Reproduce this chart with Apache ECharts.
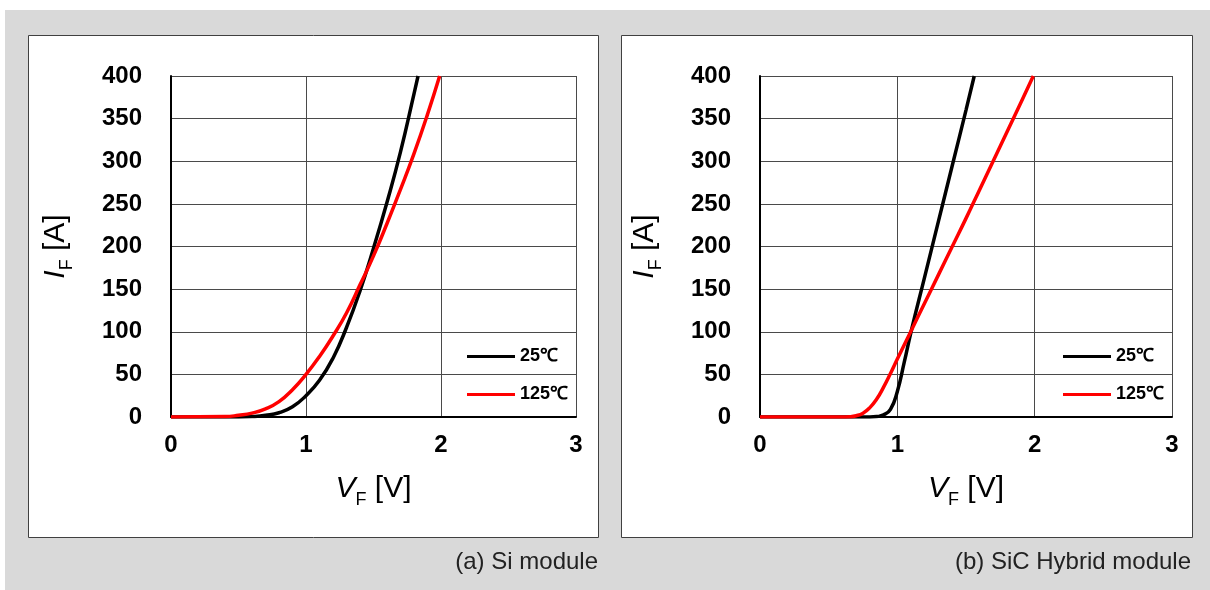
<!DOCTYPE html>
<html>
<head>
<meta charset="utf-8">
<script src="https://cdn.jsdelivr.net/npm/echarts@6/dist/echarts.min.js"></script>
<style>
html, body { margin: 0; padding: 0; background: #fff; }
#chart { width: 1210px; height: 590px; }
</style>
</head>
<body>
<div id="chart"></div>
<script>
// (a) Si module
const siV25 = [0, 0.5, 0.6, 0.7, 0.8, 0.9, 1.0, 1.1, 1.2, 1.3, 1.4, 1.5, 1.6, 1.7, 1.8, 1.83];
const siI25 = [0, 0, 0.5, 2, 5, 12, 25, 43, 69, 105, 148, 198, 252, 311, 379, 400];
const siV125 = [0, 0.4, 0.5, 0.6, 0.7, 0.8, 0.9, 1.0, 1.1, 1.2, 1.3, 1.4, 1.5, 1.6, 1.7, 1.8, 1.9, 1.99];
const siI125 = [0, 0.5, 2, 4.5, 9.5, 18, 32, 50, 71, 95, 122, 155, 189, 227, 267, 309, 355, 400];
// (b) SiC Hybrid module
const sicV25 = [0, 0.8, 0.85, 0.9, 0.95, 1.0, 1.05, 1.1, 1.2, 1.3, 1.4, 1.5, 1.56];
const sicI25 = [0, 0, 0.5, 2.5, 9, 30, 64, 100, 165, 230, 295, 360, 400];
const sicV125 = [0, 0.6, 0.65, 0.7, 0.75, 0.8, 0.85, 0.9, 0.95, 1.0, 1.1, 1.2, 1.3, 1.4, 1.5, 1.6, 1.7, 1.8, 1.9, 1.99];
const sicI125 = [0, 0, 0.3, 1.5, 4.5, 11, 21, 35, 51, 68, 101, 134, 167, 200, 233, 267, 301, 335, 369, 400];

const seriesNames = ['25℃', '125℃'];
const seriesColors = ['#000000', '#ff0000'];
const captions = ['(a) Si module', '(b) SiC Hybrid module'];

const font = '"Liberation Sans", Arial, sans-serif';

function pairs(v, i) {
  return v.map((x, k) => [x, i[k]]);
}

function nameRich() {
  return {
    i: { fontStyle: 'italic', fontSize: 30, lineHeight: 36, fontFamily: font, color: '#000' },
    s: { fontSize: 18, lineHeight: 18, padding: [22, 0, 0, 0], fontFamily: font, color: '#000' }
  };
}

function xAxis(idx) {
  return {
    type: 'value', gridIndex: idx, min: 0, max: 3, interval: 1,
    name: '{i|V}{s|F} [V]', nameLocation: 'middle', nameGap: 54,
    nameTextStyle: { fontFamily: font, fontSize: 30, lineHeight: 36, color: '#000', rich: nameRich() },
    axisLine: { show: true, onZero: false, lineStyle: { color: '#000', width: 2 } },
    axisTick: { show: false },
    axisLabel: { color: '#000', fontWeight: 'bold', fontSize: 24, margin: 16, fontFamily: font },
    splitLine: { show: true, lineStyle: { color: '#4a4a4a', width: 1 } }
  };
}

function yAxis(idx) {
  return {
    type: 'value', gridIndex: idx, min: 0, max: 400, interval: 50,
    name: '{i|I}{s|F} [A]', nameLocation: 'middle', nameGap: 97, nameRotate: 90,
    nameTextStyle: { fontFamily: font, fontSize: 30, lineHeight: 36, color: '#000', rich: nameRich() },
    axisLine: { show: true, onZero: false, lineStyle: { color: '#000', width: 2 } },
    axisTick: { show: false },
    axisLabel: { color: '#000', fontWeight: 'bold', fontSize: 24, margin: 29, fontFamily: font },
    splitLine: { show: true, lineStyle: { color: '#4a4a4a', width: 1 } }
  };
}

function line(name, color, idx, data) {
  return {
    name: name, type: 'line', xAxisIndex: idx, yAxisIndex: idx,
    data: data, smooth: 0.5, smoothConstraint: false, showSymbol: false, symbol: 'none',
    lineStyle: { color: color, width: 3.5 },
    itemStyle: { color: color },
    z: 3
  };
}

function legend(left) {
  return {
    data: seriesNames, orient: 'vertical', left: left, top: 341,
    itemWidth: 48, itemHeight: 3, itemGap: 17, icon: 'rect', selectedMode: false,
    textStyle: { fontSize: 18, fontWeight: 'bold', color: '#000', fontFamily: font, lineHeight: 21 }
  };
}

const chart = echarts.init(document.getElementById('chart'));

const option = {
  animation: false,
  backgroundColor: '#fff',
  graphic: [
    { type: 'rect', z: -20, shape: { x: 5, y: 10, width: 1205, height: 580 }, style: { fill: '#d9d9d9' } },
    { type: 'rect', z: -10, shape: { x: 28.5, y: 35.5, width: 570, height: 502 }, style: { fill: '#fff', stroke: '#404040', lineWidth: 1 } },
    { type: 'rect', z: -10, shape: { x: 621.5, y: 35.5, width: 571, height: 502 }, style: { fill: '#fff', stroke: '#404040', lineWidth: 1 } },
    { type: 'text', z: -5, x: 598, y: 562, style: { text: captions[0], fill: '#222', font: '24px ' + font, textAlign: 'right', textVerticalAlign: 'middle', verticalAlign: 'middle' } },
    { type: 'text', z: -5, x: 1191, y: 562, style: { text: captions[1], fill: '#222', font: '24px ' + font, textAlign: 'right', textVerticalAlign: 'middle', verticalAlign: 'middle' } }
  ],
  grid: [
    { left: 171, right: 634, top: 76, bottom: 173, containLabel: false },
    { left: 760, right: 38, top: 76, bottom: 173, containLabel: false }
  ],
  legend: [legend(462), legend(1058)],
  xAxis: [xAxis(0), xAxis(1)],
  yAxis: [yAxis(0), yAxis(1)],
  series: [
    line(seriesNames[0], seriesColors[0], 0, pairs(siV25, siI25)),
    line(seriesNames[1], seriesColors[1], 0, pairs(siV125, siI125)),
    line(seriesNames[0], seriesColors[0], 1, pairs(sicV25, sicI25)),
    line(seriesNames[1], seriesColors[1], 1, pairs(sicV125, sicI125))
  ]
};

chart.setOption(option);
</script>
</body>
</html>
